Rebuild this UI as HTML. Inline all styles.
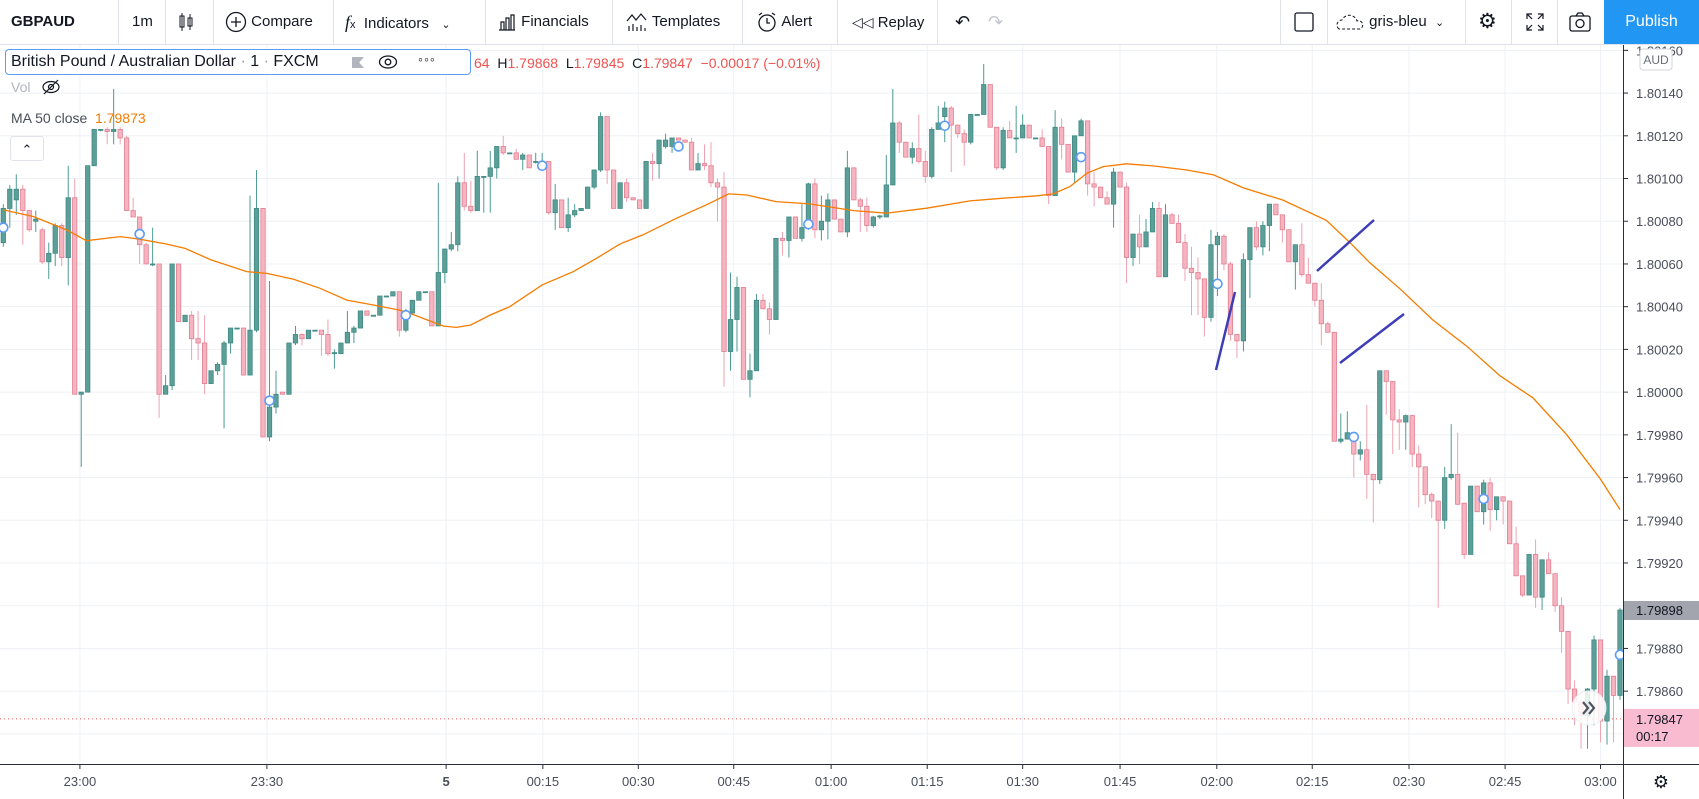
<!DOCTYPE html>
<html><head><meta charset="utf-8">
<style>
html,body{margin:0;padding:0;background:#fff;width:1699px;height:799px;overflow:hidden;font-family:"Liberation Sans",sans-serif;color:#131722}
#tb{position:absolute;left:0;top:0;width:1699px;height:44px;border-bottom:1px solid #e0e3eb;background:#fff}
.ti{position:absolute;top:0;height:44px;line-height:44px;font-size:15px;color:#131722;white-space:nowrap}
.sep{position:absolute;top:0;width:1px;height:44px;background:#e0e3eb}
#pub{position:absolute;left:1604px;top:0;width:95px;height:44px;background:#2196f3;color:#fff;font-size:16px;line-height:44px;text-align:center}
#legend{position:absolute;left:5px;top:49px;width:466px;height:26px;border:1px solid #5b9cf6;border-radius:4px;box-sizing:border-box;background:#fff}
.lt{position:absolute;font-size:15px;white-space:nowrap}
</style></head><body>
<svg id="chart" width="1699" height="799" style="position:absolute;left:0;top:0">
  <defs><clipPath id="pane"><rect x="0" y="45" width="1623" height="719"/></clipPath></defs>
  <g id="grid" clip-path="url(#pane)"></g>
  <g id="marks" clip-path="url(#pane)"></g>
  <g id="axes"></g>
</svg>

<div id="tb">
  <div class="ti" style="left:11px;font-weight:bold;font-size:15px">GBPAUD</div>
  <div class="sep" style="left:118px"></div>
  <div class="ti" style="left:132px">1m</div>
  <div class="sep" style="left:165px"></div>
  <div class="ti" style="left:178px"><svg width="16" height="20" style="vertical-align:middle"><rect x="2" y="4" width="4" height="11" fill="none" stroke="#131722"/><line x1="4" y1="1" x2="4" y2="19" stroke="#131722"/><rect x="10" y="6" width="4" height="8" fill="none" stroke="#131722"/><line x1="12" y1="2" x2="12" y2="18" stroke="#131722"/></svg></div>
  <div class="sep" style="left:213px"></div>
  <div class="ti" style="left:225px"><svg width="22" height="22" style="vertical-align:middle"><circle cx="11" cy="11" r="9.5" fill="none" stroke="#131722" stroke-width="1.3"/><path d="M11 6v10M6 11h10" stroke="#131722" stroke-width="1.3"/></svg> Compare</div>
  <div class="sep" style="left:333px"></div>
  <div class="ti" style="left:345px"><span style="font-style:italic;font-family:'Liberation Serif',serif;font-size:18px">f</span><span style="font-size:11px">x</span>&nbsp; Indicators &nbsp;&nbsp;<span style="font-size:11px">&#8964;</span></div>
  <div class="sep" style="left:485px"></div>
  <div class="ti" style="left:497px"><svg width="20" height="20" style="vertical-align:middle"><path d="M2 18h16M4 18V10h3v8M9 18V6h3v12M14 18V3h3v15" fill="none" stroke="#131722" stroke-width="1.2"/></svg> Financials</div>
  <div class="sep" style="left:612px"></div>
  <div class="ti" style="left:626px"><svg width="22" height="20" style="vertical-align:middle"><path d="M1 9l5-6 4 5 5-6 5 6" fill="none" stroke="#131722" stroke-width="1.2"/><path d="M3 19v-5M7 19v-7M11 19v-4M15 19v-6M19 19v-3" stroke="#131722" stroke-width="1.2"/></svg> Templates</div>
  <div class="sep" style="left:742px"></div>
  <div class="ti" style="left:756px"><svg width="22" height="22" style="vertical-align:middle"><circle cx="11" cy="12" r="8" fill="none" stroke="#131722" stroke-width="1.3"/><path d="M11 7v5h3M3 4l3-2M19 4l-3-2" stroke="#131722" stroke-width="1.3" fill="none"/></svg> Alert</div>
  <div class="sep" style="left:837px"></div>
  <div class="ti" style="left:852px"><span style="font-size:14px">&#9665;&#9665;</span> Replay</div>
  <div class="sep" style="left:937px"></div>
  <div class="ti" style="left:955px;font-size:18px">&#8630;</div>
  <div class="ti" style="left:988px;font-size:18px;color:#c4c7ce">&#8631;</div>
  <div class="sep" style="left:1280px"></div>
  <div class="ti" style="left:1293px"><svg width="22" height="22" style="vertical-align:middle"><rect x="2" y="2" width="18" height="18" rx="2" fill="none" stroke="#131722" stroke-width="1.3"/></svg></div>
  <div class="sep" style="left:1327px"></div>
  <div class="ti" style="left:1335px"><svg width="30" height="20" style="vertical-align:middle"><path d="M4 17a5 5 0 0 1 3-9 8 8 0 0 1 15 1 4 4 0 0 1 3 8z" fill="none" stroke="#131722" stroke-dasharray="3 2"/></svg> gris-bleu &nbsp;<span style="font-size:11px">&#8964;</span></div>
  <div class="sep" style="left:1465px"></div>
  <div class="ti" style="left:1478px;font-size:21px">&#9881;</div>
  <div class="sep" style="left:1511px"></div>
  <div class="ti" style="left:1525px"><svg width="20" height="20" style="vertical-align:middle"><path d="M2 7V2h5M13 2h5v5M18 13v5h-5M7 18H2v-5M2 2l5 5M18 2l-5 5M18 18l-5-5M2 18l5-5" fill="none" stroke="#131722" stroke-width="1.2"/></svg></div>
  <div class="sep" style="left:1557px"></div>
  <div class="ti" style="left:1569px"><svg width="22" height="20" style="vertical-align:middle"><rect x="1" y="4" width="20" height="15" rx="2" fill="none" stroke="#131722" stroke-width="1.3"/><circle cx="11" cy="11.5" r="4" fill="none" stroke="#131722" stroke-width="1.3"/><path d="M7 4l2-3h4l2 3" fill="none" stroke="#131722" stroke-width="1.3"/></svg></div>
  <div id="pub">Publish</div>
</div>

<div id="legend">
  <span class="lt" style="left:5px;top:3px;font-size:16px;color:#131722">British Pound / Australian Dollar <span style="color:#9598a1">·</span> 1 <span style="color:#9598a1">·</span> FXCM</span>
  <span style="position:absolute;left:346px;top:7px;width:12px;height:11px;background:#b2b5be;clip-path:polygon(0 0,100% 0,60% 50%,100% 100%,0 100%)"></span>
  <svg style="position:absolute;left:372px;top:4px" width="20" height="16"><ellipse cx="10" cy="8" rx="8.5" ry="6" fill="none" stroke="#131722" stroke-width="1.3"/><circle cx="10" cy="8" r="2.8" fill="none" stroke="#131722" stroke-width="1.3"/></svg>
  <span class="lt" style="left:412px;top:1px;font-size:14px;letter-spacing:1px">&#9702;&#9702;&#9702;</span>
</div>
<div class="lt" style="left:474px;top:55px;font-size:14px;color:#ef5350">64 &nbsp;<span style="color:#131722">H</span>1.79868 &nbsp;<span style="color:#131722">L</span>1.79845 &nbsp;<span style="color:#131722">C</span>1.79847 &nbsp;−0.00017 (−0.01%)</div>
<div class="lt" style="left:11px;top:79px;font-size:14px;color:#b2b5be">Vol</div>
<svg style="position:absolute;left:41px;top:79px" width="20" height="16"><ellipse cx="10" cy="8" rx="8" ry="5.5" fill="none" stroke="#131722" stroke-width="1.2"/><circle cx="10" cy="8" r="2.5" fill="none" stroke="#131722" stroke-width="1.2"/><line x1="3" y1="15" x2="17" y2="1" stroke="#131722" stroke-width="1.2"/></svg>
<div class="lt" style="left:11px;top:110px;font-size:14px;color:#4a4e59">MA 50 close &nbsp;<span style="color:#f57c00">1.79873</span></div>
<div style="position:absolute;left:10px;top:136px;width:34px;height:25px;border:1px solid #e0e3eb;border-radius:3px;box-sizing:border-box;background:#fff;text-align:center;font-size:13px;line-height:26px">&#8963;</div>

<script>
// ---- chart data (price offsets in 0.00001 units from 1.80000) ----
const openPts=[70,86,90,95,85,80,76,61,65,78,63,91,-1,0,106,123,123,122,123,119,85,82,69,60,60,-1,3,60,33,36,25,23,4,10,13,23,30,30,8,29,86,-21,-7,0,-1,23,27,25,29,29,27,18,18,23,28,30,38,36,36,45,45,47,29,37,43,47,47,31,56,67,69,98,87,85,101,101,105,115,112,112,109,111,108,108,108,84,90,77,83,85,86,96,104,129,104,86,98,91,90,86,108,107,115,115,119,118,117,104,107,106,98,96,19,34,49,6,10,43,39,34,72,71,82,72,77,97.5,76,80,90,81,75,105,90,87,78,82,82,97,126,117,110,114,108,101,123,129,133,125,121,117,130,130,144,124,105,122.5,119,119,125,119,119,115,92,124,116,103,120,127,97.5,96,91,88,103,96,63,74,68,75,86,54,83,79,70,58,56,53,35,69,73,60,27,24,62,77,68,78,88,83,76,61,69,55,51,43,32,28,-23,-22,-19,-29,-27,-38.5,-41,10,5,-13,-14,-11,-29,-35,-48,-51,-60,-40,-38.5,-52,-76,-44,-56,-42.5,-55,-49,-51,-71,-86,-95,-76,-96,-78.5,-85,-100,-112,-139,-145,-151.5,-139,-116,-154,-133,-142];
const highPts=[88,97,102,97,85,85,77,70,79,79,106,100,0,106,123,123,124,142,124,120,91,82,70,77,60,8,60,60,36,38,38,36,10,14,24,30,30,30,92,104,86,52,10,0,23,31,27.5,29,29,29,34,20,23,38,31,38,38,36,45,45,47,47,39,43,47,47,47,98,67,75,101,112,99,113,101,113,115,120,112,114,112,111,112,112,108,97.5,90,91,88,86,96,104,131,129,104,98,100,91,90,108,112,118,121,119,119,118,119,112,116,117,100,103,56,54,49,18,46,46,42,72,75,82,82,88,98,100,92,93,90,81,113,105,91,91,82.5,83,111,142,127,117,117,130,113,124,134,136,134,125,123,130,130,153.6,144,124,124,127,134,130,125,119,123,115,132,128,116,120,128,127,103,96,94,105,103,98,74,83,81,89,89,88,84,83,74,68,63,53,76,75,74,61,27,65,77,80,80,88,88,83,76,69,79,63,51,51,33,28,-10,-9,-19,-23,-6,-38.5,10,10,5,-8,-10.5,-10.5,-25,-35,-47,-51,-35,-15,-19,-52,-44,-44,-41,-40,-49,-49,-51,-63,-86,-76,-69,-78.5,-75,-85,-96,-112,-135,-145,-138.5,-114,-116,-130,-133,-101];
const lowPts=[68,77,83,69,75,75,60,53,59,59,50,-1,-35,0,106,122,116,116,116,85,82,60,60,59,-12,-1,1,33,33,15,15,-1,4,8,-17,18,30,8,8,28,-21,-23,-10,-1,-1,22,22,25,29,17,17,11,18,23,23,30,36,36,36,45,45,26,28,37,43,47,31,31,51,66,66,85,84,85,84,84,100,111,112,109,104,105,107,108,83,76,77,75,82,85,86,95,103,97.5,86,86,89,90,86,86,99,100,114,112,118,117,104,104,104,96,80,2.5,10,19,6,-2.5,10,39,27,34,64,63,72,70.5,76,72,71,71.5,81,75,72.5,90,75,75,77,81,82,97,112,110,107,107,98,100,123,117,103,119,106,116,130,130,124,104,104,119,112,119,119,119,115,88,92,109,103,98,120,92,87,91,88,77,96,51,59,60,68,75,54,54,79,70,52,36,36,26,33,45,57,24,16,19,44,66.5,64,66,83,70,61,48,54,51,40,22,28,-23,-24,-22,-40,-32,-50,-61,-43,-10.5,-29,-27,-27,-35,-54,-52.5,-59,-101,-64,-41,-53,-78,-76,-56,-62,-65,-60,-62,-71,-86,-96,-95,-101,-102,-85,-103,-122,-146,-156,-167,-167,-156,-164,-165,-164,-144];
const closePts=[86,95,95,85,76,81,61,65,78,63,91,-1,0,106,123,123,122,123,119,85,82,69,60,60,-1,3,60,33,36,25,23,4,10,13,23,30,30,8,29,86,-21,-7,-1,-1,23,27,25,29,29,27,18,18.5,23,28,30,38,36,36,45,45,47,29,37,43,47,47,31,56,67,69,98,87,85,101,101,105,115,112,112,109,111,105,108,108,84,90,77,83,85,86,96,104,129,104,86,98,91,90,86,108,107,118,118,119,118,117,104,107,106,98,96,19,34,49,6,10,43,39,34,72,71,82,72,77,97.5,76,80,90,81,75,105,90,87,78,82,82.5,97,126,117,110,114,108,101,123,126,133,125,121,117,130,130,144,124,105,122.5,119,119,125,119,119,115,92,124,116,103,120,127,97.5,96,91,88,103,96,63,74,68,75,86,54,83,79,70,58,56,53,35,69,73,60,27,24,62,77,68,78,88,83,76,61,69,55,51,43,32,28,-23,-22,-19,-29,-27,-38.5,-41,10,5,-13,-14,-11,-29,-35,-48,-51,-60,-40,-38.5,-52.5,-76,-44,-56,-42.5,-55,-49,-51,-71,-86,-95,-76,-96,-78.5,-85,-100,-112,-139,-145,-151.5,-139,-116,-154,-133,-142,-102];
// MA 50 line, read at sample bars
const maBars=[0,4.6,9.8,12.8,18,21,25,28,32,37.5,40.6,44.7,48.8,52.9,57,61,62.6,67.8,69.8,72,75,78,83,87.8,91.4,95,98.5,103.7,108.8,111.7,114.5,119,124.2,131,136,142.2,148.9,154,159.2,161.7,164.3,166.9,169.4,173,177.1,182.3,186.4,191,197.1,203.8,207.4,210.5,215.1,220.2,225.4,230.5,235.6,240.8,246,249];
const maPts=[85.3,82.2,75.9,70.9,72.8,71.6,69.4,67.3,61.9,56.4,55.6,52.8,48.6,43.1,40.8,38.4,36.9,30.9,30.3,31.4,36.1,40,50.2,56.4,62.7,69.4,73.6,81.4,88.4,92.8,92.3,89.2,88.1,85,83.75,86.1,89.5,90.8,91.9,92.8,96.25,102.5,105.6,106.9,105.9,104,101.7,95.6,89.9,80.4,70,60.5,48.4,33.7,21.5,7.7,-2.7,-20,-40.7,-55];
// signal markers
const markerBars=[0,21,41,62,83,104,124,145,166,187,208,228,249];
const markerPts=[77,74,-4,36,106,115,78.6,124.7,110,50.7,-21,-50,-123];
// axes
const priceTicks=[160,140,120,100,80,60,40,20,0,-20,-40,-60,-80,-120,-140];
const gridPrices=[160,140,120,100,80,60,40,20,0,-20,-40,-60,-80,-100,-120,-140,-160];
const timeLabels=["23:00","23:30","5","00:15","00:30","00:45","01:00","01:15","01:30","01:45","02:00","02:15","02:30","02:45","03:00"];
const timeBars=[11.8,40.6,68.2,83.1,97.8,112.5,127.5,142.3,157,172,186.9,201.6,216.5,231.3,246];
const lastPrice=-102, livePrice=-153;

const NS="http://www.w3.org/2000/svg";
const N=openPts.length;
const X0=3.3, X1=1620;
function xOf(i){return X0+i*(X1-X0)/(N-1);}
function yOf(u){return 563-(u+80)*2.136;}
function fmt(u){return (1.8+u/1e5).toFixed(5);}
function mk(tag,attrs,parent){const e=document.createElementNS(NS,tag);for(const k in attrs)e.setAttribute(k,attrs[k]);parent.appendChild(e);return e;}
const grid=document.getElementById('grid'),marks=document.getElementById('marks'),axes=document.getElementById('axes');

gridPrices.forEach(u=>{const l=mk('line',{x1:0,x2:1623,y1:yOf(u),y2:yOf(u),stroke:'#eef1f6','stroke-width':1},grid);

});
timeBars.forEach(b=>{const l=mk('line',{x1:xOf(b),x2:xOf(b),y1:45,y2:764,stroke:'#eef1f6','stroke-width':1},grid);

});

// live price dotted line
const dl=mk('line',{x1:0,x2:1623,y1:yOf(livePrice),y2:yOf(livePrice),stroke:'#ef5350','stroke-width':1,'stroke-dasharray':'1 3'},marks);



for(let i=0;i<N;i++){
  const o=openPts[i],h=highPts[i],l=lowPts[i],c=closePts[i];
  const up=c>=o;const x=xOf(i);
  const g=mk('g',{},marks);
  
  
  mk('line',{x1:x,x2:x,y1:yOf(h),y2:yOf(l),stroke:up?'#4d9b94':'#eea3b1','stroke-width':1},g);
  const top=yOf(Math.max(o,c)),bot=yOf(Math.min(o,c));
  mk('rect',{x:x-2.2,y:top,width:4.4,height:Math.max(1,bot-top),fill:up?'#5c9f99':'#f6b4c0',stroke:up?'#3f8a84':'#e27f91','stroke-width':0.8},g);
}

let d='';maBars.forEach((b,k)=>{d+=(k?'L':'M')+xOf(b).toFixed(1)+' '+yOf(maPts[k]).toFixed(1);});
const ma=mk('path',{d:d,fill:'none',stroke:'#f57c00','stroke-width':1.3},marks);



markerBars.forEach((b,k)=>{const c=mk('circle',{cx:xOf(b),cy:yOf(markerPts[k]),r:4.5,fill:'#fff',stroke:'#5b9cf6','stroke-width':1.6},marks);

});

// user trend lines (drawings)
[[1216,370,1235,292],[1317,271,1374,220],[1340,363,1404,314]].forEach(s=>{const l=mk('line',{x1:s[0],y1:s[1],x2:s[2],y2:s[3],stroke:'#3d3db8','stroke-width':2.5},marks);

});

// scroll-to-realtime button
const sb=mk('g',{},marks);


mk('circle',{cx:1589,cy:708,r:17,fill:'rgba(255,255,255,0.85)',stroke:'#eceef2'},sb);
mk('path',{d:'M1583 702l5 6-5 6M1589 702l5 6-5 6',fill:'none',stroke:'#50535e','stroke-width':2.2},sb);

// axes
mk('rect',{x:1623,y:45,width:76,height:719,fill:'#fff'},axes);
mk('line',{x1:1623.5,x2:1623.5,y1:45,y2:799,stroke:'#2a2e39','stroke-width':1},axes);
mk('line',{x1:0,x2:1699,y1:764.5,y2:764.5,stroke:'#2a2e39','stroke-width':1},axes);
priceTicks.forEach(u=>{const y=yOf(u);
  mk('line',{x1:1623,x2:1628,y1:y,y2:y,stroke:'#2a2e39'},axes);
  const t=mk('text',{x:1636,y:y+5,'font-size':13,fill:'#4a4e59','font-family':'Liberation Sans, sans-serif'},axes);
  t.textContent=fmt(u);
  
  });
timeBars.forEach((b,k)=>{const x=xOf(b);
  mk('line',{x1:x,x2:x,y1:764,y2:769,stroke:'#2a2e39'},axes);
  const t=mk('text',{x:x,y:786,'font-size':13,fill:'#4a4e59','text-anchor':'middle','font-weight':timeLabels[k]==='5'?'bold':'normal','font-family':'Liberation Sans, sans-serif'},axes);
  t.textContent=timeLabels[k];
  
  });
// AUD currency badge
const ab=mk('g',{},axes);


mk('rect',{x:1640,y:49,width:32,height:21,rx:3,fill:'#fff',stroke:'#d1d4dc'},ab);
const at=mk('text',{x:1656,y:64,'font-size':12,fill:'#6a6d78','text-anchor':'middle','font-family':'Liberation Sans, sans-serif'},ab);at.textContent='AUD';
// last price label (gray)
const lp=mk('g',{},axes);


mk('rect',{x:1624,y:yOf(lastPrice)-9,width:75,height:19,fill:'#a2a5ad'},lp);
const lt=mk('text',{x:1636,y:yOf(lastPrice)+5,'font-size':13,fill:'#131722','font-family':'Liberation Sans, sans-serif'},lp);lt.textContent=fmt(lastPrice);
// live price label (pink)
const pp=mk('g',{},axes);


mk('rect',{x:1624,y:yOf(livePrice)-10,width:75,height:38,fill:'#f8bbd0'},pp);
const pt=mk('text',{x:1636,y:yOf(livePrice)+5,'font-size':13,fill:'#131722','font-family':'Liberation Sans, sans-serif'},pp);pt.textContent=fmt(livePrice);
const ct=mk('text',{x:1636,y:yOf(livePrice)+22,'font-size':13,fill:'#131722','font-family':'Liberation Sans, sans-serif'},pp);ct.textContent='00:17';
// gear bottom right
const gt=mk('text',{x:1661,y:788,'font-size':18,fill:'#131722','text-anchor':'middle'},axes);gt.textContent='\u2699';


</script>
</body></html>
